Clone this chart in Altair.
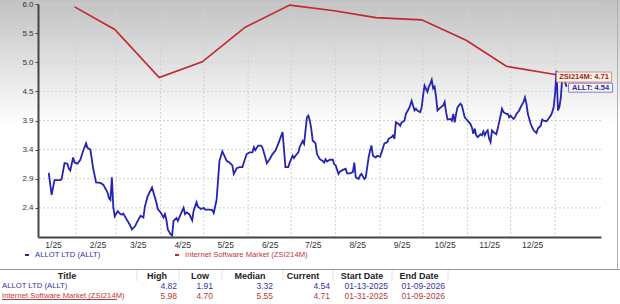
import altair as alt
import pandas as pd

# ---------------- data ----------------
# ALLT daily closes: day number counted from 2025-01-01, and value
allt_days = [
    12, 14, 16, 20, 21, 23, 25, 26, 27, 29,
    30, 32, 34, 36, 38, 39, 41, 43, 45, 48,
    50, 53, 54, 55, 56, 57, 58, 60, 62, 63,
    64, 66, 69, 70, 72, 74, 76, 78, 79, 81,
    84, 85, 87, 88, 90, 92, 93, 94, 95, 97,
    98, 99, 101, 102, 104, 106, 107, 108, 110, 112,
    113, 115, 116, 118, 120, 121, 124, 126, 127, 129,
    130, 131, 133, 136, 138, 140, 141, 143, 145, 147,
    148, 150, 152, 154, 155, 156, 158, 160, 161, 163,
    164, 166, 168, 169, 170, 172, 173, 175, 177, 179,
    180, 182, 183, 184, 186, 187, 189, 190, 191, 192,
    193, 194, 195, 196, 198, 199, 201, 203, 204, 205,
    206, 208, 210, 211, 212, 214, 215, 217, 219, 220,
    222, 224, 225, 226, 228, 229, 230, 232, 233, 235,
    236, 237, 238, 240, 241, 243, 244, 246, 248, 249,
    251, 252, 253, 254, 256, 257, 258, 260, 261, 263,
    264, 265, 267, 268, 269, 271, 272, 273, 274, 276,
    277, 278, 279, 280, 281, 282, 283, 285, 287, 288,
    289, 290, 292, 293, 294, 295, 296, 297, 299, 300,
    302, 303, 304, 306, 307, 308, 309, 310, 311, 313,
    314, 315, 316, 317, 318, 319, 320, 321, 322, 324,
    325, 327, 328, 329, 331, 332, 333, 334, 336, 337,
    338, 340, 341, 343, 344, 345, 346, 348, 350, 352,
    353, 355, 356, 357, 359, 360, 362, 363, 364, 365,
    366, 367, 368, 369, 370, 372, 373,
]
allt_values = [
    3.02, 2.63, 2.89, 2.89, 2.91, 3.19, 3.18, 3.09, 3.06, 3.29,
    3.20, 3.18, 3.25, 3.41, 3.54, 3.46, 3.43, 3.09, 2.85, 2.84,
    2.81, 2.67, 2.57, 2.54, 2.94, 2.41, 2.25, 2.34, 2.29, 2.28,
    2.30, 2.21, 2.08, 2.02, 2.07, 2.17, 2.26, 2.23, 2.42, 2.61,
    2.76, 2.67, 2.50, 2.38, 2.32, 2.23, 2.29, 2.19, 2.02, 1.93,
    1.91, 2.17, 2.22, 2.17, 2.29, 2.40, 2.29, 2.32, 2.29, 2.18,
    2.35, 2.50, 2.42, 2.38, 2.40, 2.37, 2.37, 2.36, 2.31, 2.54,
    2.88, 3.23, 3.40, 3.23, 3.20, 3.15, 3.00, 3.10, 3.12, 3.12,
    3.20, 3.35, 3.38, 3.38, 3.47, 3.42, 3.50, 3.50, 3.46, 3.29,
    3.19, 3.26, 3.35, 3.38, 3.41, 3.53, 3.60, 3.74, 3.12, 3.12,
    3.20, 3.32, 3.28, 3.32, 3.38, 3.48, 3.58, 3.53, 3.77, 4.00,
    4.03, 3.94, 3.80, 3.59, 3.54, 3.35, 3.26, 3.23, 3.20, 3.26,
    3.22, 3.25, 3.25, 3.17, 3.15, 3.00, 3.04, 3.07, 3.09, 3.01,
    3.01, 3.03, 3.20, 2.94, 2.91, 2.97, 3.00, 2.91, 2.94, 3.29,
    3.41, 3.50, 3.32, 3.29, 3.32, 3.30, 3.38, 3.54, 3.56, 3.62,
    3.65, 3.68, 3.62, 3.91, 3.88, 3.85, 3.91, 3.94, 4.06, 4.15,
    4.21, 4.29, 4.12, 4.15, 4.12, 4.09, 4.18, 4.39, 4.56, 4.45,
    4.54, 4.59, 4.66, 4.51, 4.54, 4.36, 4.12, 4.17, 4.21, 4.27,
    4.09, 3.96, 3.97, 3.94, 4.06, 3.91, 4.06, 4.18, 4.24, 4.21,
    4.00, 3.97, 3.94, 3.88, 3.82, 3.71, 3.80, 3.68, 3.65, 3.70,
    3.68, 3.75, 3.68, 3.74, 3.77, 3.62, 3.56, 3.77, 3.74, 3.70,
    3.80, 4.03, 4.15, 4.09, 4.06, 4.06, 4.00, 4.03, 3.97, 4.00,
    4.06, 4.12, 4.18, 4.27, 4.35, 4.24, 4.06, 3.88, 3.77, 3.72,
    3.80, 3.85, 3.96, 3.94, 3.93, 3.96, 4.03, 4.09, 4.18, 4.42,
    4.82, 4.12, 4.18, 4.35, 4.70, 4.62, 4.54,
]

zsi_dates = ["2025-01-31", "2025-02-28", "2025-03-31", "2025-04-30", "2025-05-30",
             "2025-06-30", "2025-07-31", "2025-08-29", "2025-09-30", "2025-10-31",
             "2025-11-28", "2025-12-31", "2026-01-09"]
zsi_values = [5.95, 5.55, 4.70, 4.98, 5.59, 5.98, 5.88, 5.76, 5.72, 5.36, 4.90, 4.76, 4.71]

grid_months = ["2025-02-01", "2025-03-01", "2025-04-01", "2025-05-01", "2025-06-01",
               "2025-07-01", "2025-08-01", "2025-09-01", "2025-10-01", "2025-11-01",
               "2025-12-01", "2026-01-01"]
label_months = [1, 2, 3, 4, 5, 6, 7, 8, 9, 10, 11, 12]   # labelled mid-month, 2025
y_tick_values = [2.4, 2.9142857, 3.4285714, 3.9428571, 4.4571429, 4.9714286, 5.4857143, 6.0]
y_domain = [1.8857143, 6.0]

series_names = ["ALLOT LTD (ALLT)", "Internet Software Market (ZSI214M)"]
end_labels = ["ALLT: 4.54", "ZSI214M: 4.71"]
table_headers = ["Title", "High", "Low", "Median", "Current", "Start Date", "End Date"]
allt_stats = ["4.82", "1.91", "3.32", "4.54", "01-13-2025", "01-09-2026"]
zsi_stats = ["5.98", "4.70", "5.55", "4.71", "01-31-2025", "01-09-2026"]

# ---------------- style / layout ----------------
BLUE = "#2424b0"
RED = "#c1272d"
BLUE_TXT = "#3333aa"
RED_TXT = "#c0393b"
FONT = "Liberation Sans"
W, H = 563, 233
OX, OY = 38, 4


def px(x):
    return x - OX


def py(y):
    return y - OY


base = pd.Timestamp("2025-01-01")
allt_df = pd.DataFrame({"date": [base + pd.Timedelta(days=d) for d in allt_days],
                        "value": allt_values})
zsi_df = pd.DataFrame({"date": pd.to_datetime(zsi_dates), "value": zsi_values})
vgrid_df = pd.DataFrame({"date": pd.to_datetime(grid_months)})
hgrid_df = pd.DataFrame({"value": y_tick_values})
allt_end = allt_df.tail(1).assign(label=end_labels[0])
zsi_end = zsi_df.tail(1).assign(label=end_labels[1])

xscale = alt.Scale(domain=[alt.DateTime(year=2025, month=1, date=5, hours=12),
                           alt.DateTime(year=2026, month=2, date=2)])
yscale = alt.Scale(domain=y_domain, nice=False, zero=False)

xaxis = alt.Axis(values=[alt.DateTime(year=2025, month=m, date=16) for m in label_months],
                 format="%-m/%y", grid=False, ticks=False, domainColor="#444",
                 domainWidth=2, labelFont=FONT, labelFontSize=8.5, labelColor="#333",
                 labelPadding=3, labelOverlap=False, labelFlush=False, title=None, zindex=1)
yaxis = alt.Axis(values=y_tick_values, format=".1f", grid=False, domainColor="#444",
                 domainWidth=2, tickColor="#444", tickSize=3, labelFont=FONT,
                 labelFontSize=8, labelColor="#333", labelPadding=2, title=None, zindex=1)

xenc = alt.X("date:T", scale=xscale, axis=xaxis)
yenc = alt.Y("value:Q", scale=yscale, axis=yaxis)

one = alt.Data(values=[{}])

gradient = alt.LinearGradient(gradient="linear", x1=0, x2=0, y1=0, y2=1,
                              stops=[alt.GradientStop(offset=0, color="#c2c2c2"),
                                     alt.GradientStop(offset=1, color="#ffffff")])
bg = alt.Chart(one).mark_rect(color=gradient).encode(
    x=alt.value(px(0)), x2=alt.value(px(620)), y=alt.value(py(0)), y2=alt.value(py(125)))

vgrid = alt.Chart(vgrid_df).mark_rule(color="#d0d0d0", strokeDash=[2, 2], strokeWidth=1).encode(x=xenc)
hgrid = alt.Chart(hgrid_df).mark_rule(color="#d0d0d0", strokeDash=[2, 2], strokeWidth=1).encode(y=yenc)

zsi_line = alt.Chart(zsi_df).mark_line(color=RED, strokeWidth=1.6).encode(x=xenc, y=yenc)
allt_line = alt.Chart(allt_df).mark_line(color=BLUE, strokeWidth=1.8).encode(x=xenc, y=yenc)

zsi_box = alt.Chart(zsi_end).mark_rect(
    fill="#fdf5e4", stroke="#d98c8c", strokeWidth=1,
    xOffset=-10, x2Offset=45, yOffset=-5, y2Offset=5).encode(
    x=xenc, x2="date:T", y=yenc, y2="value:Q")
zsi_txt = alt.Chart(zsi_end).mark_text(
    dx=17.5, align="center", baseline="middle", font=FONT, fontSize=7.5,
    fontWeight="bold", color="#9e2226").encode(x=xenc, y=yenc, text="label:N")
allt_box = alt.Chart(allt_end).mark_rect(
    fill="#f8f6ee", stroke="#7b7bd4", strokeWidth=1,
    xOffset=2, x2Offset=46, yOffset=-3.5, y2Offset=5.5).encode(
    x=xenc, x2="date:T", y=yenc, y2="value:Q")
allt_txt = alt.Chart(allt_end).mark_text(
    dx=24, dy=1, align="center", baseline="middle", font=FONT, fontSize=7.5,
    fontWeight="bold", color="#2e2ea0").encode(x=xenc, y=yenc, text="label:N")

layers = [bg, vgrid, hgrid, zsi_line, allt_line, zsi_box, zsi_txt, allt_box, allt_txt]


def rule(x1, x2, y1, y2, color, width=1):
    return alt.Chart(one).mark_rule(color=color, strokeWidth=width).encode(
        x=alt.value(px(x1)), x2=alt.value(px(x2)), y=alt.value(py(y1)), y2=alt.value(py(y2)))


def text(s, x, y, color, size=8, align="left", weight="normal"):
    return alt.Chart(one).mark_text(
        text=s, align=align, baseline="middle", font=FONT, fontSize=size,
        fontWeight=weight, color=color).encode(x=alt.value(px(x)), y=alt.value(py(y)))


# legend
layers += [rule(25, 29, 255, 255, BLUE, 2), text(series_names[0], 35, 255, BLUE_TXT, 7.7),
           rule(175, 179, 255, 255, RED, 2), text(series_names[1], 185, 255, RED_TXT, 7.7)]

# frame lines
layers += [rule(0, 620, 269.5, 269.5, "#9a9a9a"), rule(617.5, 617.5, 0, 269.5, "#b0b0b0")]

# table header
head_x = [67, 157, 200, 250, 303, 362, 419]
for h, x in zip(table_headers, head_x):
    layers.append(text(h, x, 276, "#222222", 9, "center", "bold"))
for x in [137, 179, 222, 283, 333, 392, 448]:
    layers.append(rule(x, x, 270, 281, "#e0e0e0"))

# table rows
val_right = [177, 213, 273, 330, 388, 445]
layers.append(text(series_names[0], 2, 285.5, BLUE_TXT, 7.7))
layers.append(text(series_names[1], 2, 295.5, RED_TXT, 7.7))
layers.append(rule(2, 117, 299.5, 299.5, RED_TXT))
for s, x in zip(allt_stats, val_right):
    layers.append(text(s, x, 285.5, BLUE_TXT, 8.5, "right"))
for s, x in zip(zsi_stats, val_right):
    layers.append(text(s, x, 295.5, RED_TXT, 8.5, "right"))

chart = alt.layer(*layers).properties(
    width=W, height=H,
    autosize=alt.AutoSizeParams(type="none"),
    padding={"left": OX, "top": OY, "right": 620 - OX - W, "bottom": 304 - OY - H},
).configure(background="white").configure_view(stroke=None)

chart.save("out.html", embed_options={"renderer": "svg", "actions": False})
